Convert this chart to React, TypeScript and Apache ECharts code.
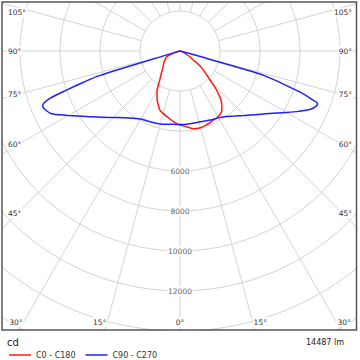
import React, { useEffect, useRef } from "react";
import * as echarts from "echarts";

// ---- data (luminous intensity, cd, per gamma angle in degrees) ----
const C0_GAMMA = [0, 5, 10, 15, 20, 25, 30, 35, 38, 41, 44, 47, 50, 53, 56, 60, 65, 70, 75, 80, 90];
const C0_CD = [3700, 3800, 3950, 3970, 3920, 3850, 3800, 3640, 3400, 3040, 2500, 1950, 1600, 1300, 800, 550, 275, 100, 30, 0, 0];

const C180_GAMMA = [0, 5, 10, 15, 19, 22, 25, 28, 31, 35, 40, 47, 54, 60, 67, 72, 76, 80, 90];
const C180_CD = [3700, 3560, 3380, 3240, 3110, 2900, 2700, 2450, 2200, 1760, 1450, 1150, 1000, 850, 720, 350, 100, 0, 0];

const C90_GAMMA = [0, 5, 10, 15, 20, 25, 30, 35, 40, 45, 50, 55, 60, 63, 66, 68, 69, 70, 71, 72, 73, 74, 75, 76, 80, 90];
const C90_CD = [3680, 3680, 3670, 3680, 3720, 3790, 3860, 4000, 4250, 4560, 4950, 5450, 6150, 6650, 7150, 7350, 7370, 6950, 6400, 5600, 4900, 4160, 500, 100, 0, 0];

const C270_GAMMA = [0, 5, 10, 15, 20, 25, 30, 35, 40, 45, 50, 55, 60, 62, 64, 66, 68, 69, 70, 71, 72, 73, 74, 75, 80, 90];
const C270_CD = [3680, 3680, 3720, 3780, 3820, 3860, 3930, 4100, 4350, 4700, 5150, 5700, 6450, 6800, 7150, 7320, 7400, 7300, 6920, 6000, 5100, 4250, 250, 50, 0, 0];

const SERIES_NAMES = ["C0 - C180", "C90 - C270"];
const RADIUS_LABELS = [6000, 8000, 10000, 12000];
const ANGLE_LABELS = [0, 15, 30, 45, 60, 75, 90, 105];
const FLUX_LABEL = "14487 lm";
const UNIT_LABEL = "cd";

// ---- layout ----
const CX = 180;
const CY = 51;
const R_MAX_PX = 400;
const CD_MAX = 20000;
const BOX = { x: 2, y: 2, w: 354.5, h: 328 };

// build closed loop: right half (theta = 360 - gamma), then left half (theta = gamma)
function loop(rightG: number[], rightV: number[], leftG: number[], leftV: number[]) {
  const pts: number[][] = [];
  for (let i = rightG.length - 1; i >= 0; i--) pts.push([rightV[i], 360 - rightG[i]]);
  for (let i = 0; i < leftG.length; i++) pts.push([leftV[i], leftG[i]]);
  return pts;
}

function angleLabelElements() {
  const els: any[] = [];
  const font = { fontSize: 7.5, fontFamily: "DejaVu Sans", fill: "#333", backgroundColor: "#fff", padding: [1, 1, 1, 1] };
  ANGLE_LABELS.forEach((g) => {
    if (g === 0) {
      els.push({ type: "text", x: CX, y: 322, z: 110, style: { ...font, text: g + "°", align: "center", verticalAlign: "middle" } });
      return;
    }
    const rad = (g * Math.PI) / 180;
    [-1, 1].forEach((side) => {
      let y = CY + (162 * Math.cos(rad)) / Math.sin(rad);
      let x: number;
      let align: string;
      if (y <= 321) {
        y = Math.max(y, 12.5);
        x = side < 0 ? 7 : 353;
        align = side < 0 ? "left" : "right";
      } else {
        y = 322;
        x = CX + side * (322 - CY) * Math.tan(rad);
        align = side < 0 ? "right" : "left";
      }
      els.push({ type: "text", x, y, z: 110, style: { ...font, text: g + "°", align, verticalAlign: "middle" } });
    });
  });
  return els;
}

export default function App() {
  const ref = useRef<HTMLDivElement>(null);
  useEffect(() => {
    if (!ref.current) return;
    const chart = echarts.init(ref.current, null, { renderer: "svg" });
    const gridColor = "#d4d4d4";
    const option: any = {
      animation: false,
      backgroundColor: "#fff",
      polar: [
        { center: [CX, CY], radius: [40, R_MAX_PX] },
        { center: [CX, CY], radius: [0, R_MAX_PX] },
      ],
      angleAxis: [
        {
          polarIndex: 0, type: "value", min: 0, max: 360, interval: 15, startAngle: 270, clockwise: true,
          axisLine: { show: false }, axisTick: { show: false }, axisLabel: { show: false },
          splitLine: { show: true, lineStyle: { color: gridColor, width: 1 } },
        },
        { polarIndex: 1, type: "value", min: 0, max: 360, startAngle: 270, clockwise: true, show: false },
      ],
      radiusAxis: [
        { polarIndex: 0, type: "value", min: 2000, max: CD_MAX, show: false },
        {
          polarIndex: 1, type: "value", min: 0, max: CD_MAX, interval: 2000,
          axisLine: { show: false }, axisTick: { show: false }, axisLabel: { show: false },
          splitLine: { show: true, lineStyle: { color: gridColor, width: 1 } },
        },
      ],
      legend: {
        data: SERIES_NAMES, left: 4, top: 346, itemWidth: 22, itemHeight: 1.5, itemGap: 10, z: 200,
        icon: "rect",
        textStyle: { fontSize: 8, fontFamily: "DejaVu Sans", color: "#333" },
      },
      series: [
        {
          name: SERIES_NAMES[0], type: "line", coordinateSystem: "polar", polarIndex: 1, symbol: "none", smooth: 0.3,
          color: "#ff1a1a", lineStyle: { color: "#ff1a1a", width: 1.5 },
          data: loop(C0_GAMMA, C0_CD, C180_GAMMA, C180_CD), z: 3,
        },
        {
          name: SERIES_NAMES[1], type: "line", coordinateSystem: "polar", polarIndex: 1, symbol: "none", smooth: 0.3,
          color: "#2020ff", lineStyle: { color: "#2020ff", width: 1.5 },
          data: loop(C90_GAMMA, C90_CD, C270_GAMMA, C270_CD), z: 4,
        },
        {
          type: "scatter", coordinateSystem: "polar", polarIndex: 1, symbolSize: 0, silent: true, z: 5,
          data: RADIUS_LABELS.map((v) => [v, 0]),
          label: {
            show: true, position: "inside", formatter: (p: any) => String(p.value[0]),
            fontSize: 7.5, fontFamily: "DejaVu Sans", color: "#333", backgroundColor: "#fff", padding: [1, 1],
          },
        },
      ],
      graphic: [
        { type: "rect", z: 100, shape: { x: 0, y: BOX.y + BOX.h, width: 360, height: 40 }, style: { fill: "#fff" } },
        { type: "rect", z: 100, shape: { x: 0, y: 0, width: 360, height: BOX.y }, style: { fill: "#fff" } },
        { type: "rect", z: 100, shape: { x: 0, y: 0, width: BOX.x, height: 360 }, style: { fill: "#fff" } },
        { type: "rect", z: 100, shape: { x: BOX.x + BOX.w, y: 0, width: 10, height: 360 }, style: { fill: "#fff" } },
        { type: "rect", z: 101, shape: { x: BOX.x, y: BOX.y, width: BOX.w, height: BOX.h }, style: { fill: "none", stroke: "#555", lineWidth: 1.5 } },
        ...angleLabelElements(),
        { type: "text", x: 7, y: 342, z: 110, style: { text: UNIT_LABEL, fontSize: 10, fontFamily: "DejaVu Sans", fill: "#222", align: "left", verticalAlign: "middle" } },
        { type: "text", x: 344, y: 342, z: 110, style: { text: FLUX_LABEL, fontSize: 8, fontFamily: "DejaVu Sans", fill: "#222", align: "right", verticalAlign: "middle" } },
      ],
    };
    chart.setOption(option);
    return () => chart.dispose();
  }, []);
  return <div ref={ref} style={{ position: "absolute", left: 0, top: 0, width: 360, height: 360 }} />;
}
